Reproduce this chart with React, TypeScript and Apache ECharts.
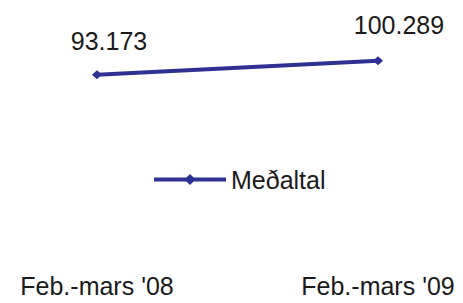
import React, { useEffect, useRef } from "react";
import * as echarts from "echarts";

const categories = ["Feb.-mars '08", "Feb.-mars '09"];
const seriesName = "Meðaltal";
const values = [93.173, 100.289];
const valueLabels = ["93.173", "100.289"];

export default function App() {
  const ref = useRef<HTMLDivElement>(null);
  useEffect(() => {
    if (!ref.current) return;
    const chart = echarts.init(ref.current, undefined, { renderer: "svg" });
    const font = "'Liberation Sans', Arial, sans-serif";
    const labelOffsets = [[12, 0], [21, -2]];
    chart.setOption({
      animation: false,
      backgroundColor: "#ffffff",
      grid: { left: 97, right: 85, top: 22, bottom: 45 },
      legend: {
        left: 152,
        top: 167,
        padding: 0,
        itemWidth: 72,
        itemHeight: 14,
        itemGap: 5,
        lineStyle: { width: 4 },
        textStyle: { fontFamily: font, fontSize: 25, color: "#1a1a1a" },
        data: [seriesName],
      },
      xAxis: {
        type: "category",
        data: categories,
        boundaryGap: false,
        axisLine: { show: false },
        axisTick: { show: false },
        axisLabel: { fontFamily: font, fontSize: 25, color: "#1a1a1a", margin: 15 },
      },
      yAxis: {
        type: "value",
        min: 0,
        max: 120,
        show: false,
        splitLine: { show: false },
      },
      series: [
        {
          name: seriesName,
          type: "line",
          data: values.map((v, i) => ({
            value: v,
            label: {
              show: true,
              position: "top",
              distance: 17,
              offset: labelOffsets[i],
              formatter: () => valueLabels[i],
            },
          })),
          symbol: "diamond",
          symbolSize: [10, 9],
          lineStyle: { width: 4, color: "#2e3192" },
          itemStyle: { color: "#2e3192" },
          label: {
            fontFamily: font,
            fontSize: 25,
            color: "#1a1a1a",
          },
        },
      ],
    });
    return () => chart.dispose();
  }, []);
  return <div ref={ref} style={{ width: 463, height: 303, marginLeft: -8, marginTop: -8 }} />;
}
